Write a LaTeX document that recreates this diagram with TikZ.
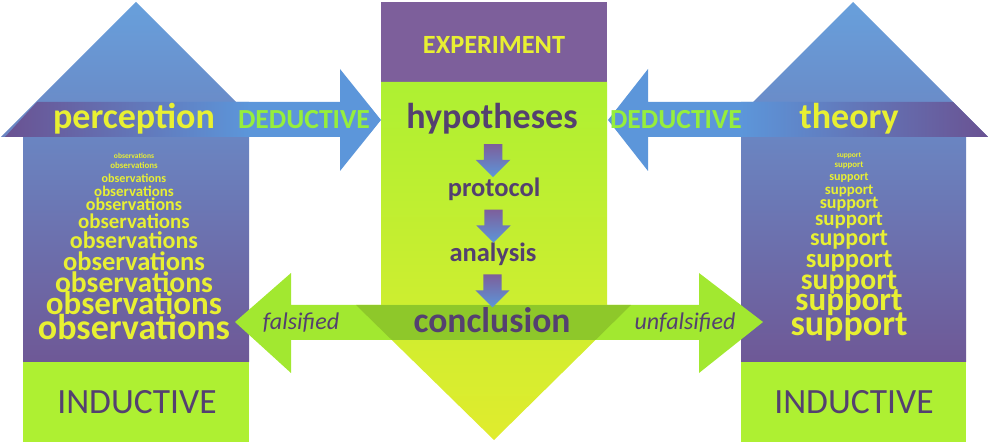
\documentclass[tikz,border=0pt]{standalone}
\usepackage{fontspec}
\setmainfont{Carlito}
\usetikzlibrary{shapes.arrows, positioning, calc}

\definecolor{skyblue}{RGB}{104,160,220}
\definecolor{dusk}{RGB}{110,88,150}
\definecolor{bandpurple}{RGB}{106,82,146}
\definecolor{arrowblue}{RGB}{92,150,218}
\definecolor{limegreen}{RGB}{174,240,50}
\definecolor{lemon}{RGB}{224,236,46}
\definecolor{grape}{RGB}{125,95,155}
\definecolor{inkpurple}{RGB}{84,64,112}
\definecolor{textyellow}{RGB}{232,240,50}
\definecolor{dedgreen}{RGB}{150,238,60}
\definecolor{bandgreen}{RGB}{162,232,48}
\definecolor{olive}{RGB}{142,200,42}

\tikzset{
  roofword/.style={inner sep=0pt, text=textyellow, font=\bfseries\fontsize{36}{36}\selectfont},
  dedword/.style={inner sep=0pt, text=dedgreen, font=\bfseries\fontsize{27.6}{28}\selectfont},
  stageword/.style={inner sep=0pt, text=inkpurple, font=\bfseries\fontsize{26.5}{27}\selectfont},
  indword/.style={inner sep=0pt, text=inkpurple, font=\fontsize{35.5}{36}\selectfont},
  verdict/.style={inner sep=0pt, text=inkpurple, font=\itshape\fontsize{24}{24}\selectfont},
  pileword/.style={inner sep=0pt, text=textyellow},
  stepdown/.style={single arrow, shape border rotate=270, inner sep=9pt, minimum height=33pt,
    single arrow head extend=8pt, single arrow tip angle=90, top color=grape, bottom color=arrowblue}
}

\begin{document}
\begin{tikzpicture}[x=1pt, y=-1pt]
    \useasboundingbox (0,0) rectangle (990,443);
    % houses
    \shade[top color=skyblue, bottom color=dusk] (23,362) -- (23,137) -- (1,137) -- (136,2) -- (271,137) -- (249,137) -- (249,362) -- cycle;
    \fill[limegreen] (23,362) rectangle (249,442);
    \shade[top color=skyblue, bottom color=dusk] (741,362) -- (741,137) -- (718,137) -- (853,2) -- (988,137) -- (966,137) -- (966,362) -- cycle;
    \fill[limegreen] (741,362) rectangle (966,442);
    % experiment column
    \fill[grape] (381,2) rectangle (607,82);
    \shade[top color=limegreen, bottom color=lemon] (381,82) -- (607,82) -- (607,305) -- (631,305) -- (494,440) -- (356,305) -- (381,305) -- cycle;
    % deductive arrows
    \fill[arrowblue] (200,102) -- (340,102) -- (340,69) -- (381,120) -- (340,171) -- (340,137) -- (200,137) -- cycle;
    \shade[left color=bandpurple, right color=arrowblue] (5,137) -- (37,102) -- (249,102) -- (249,137) -- cycle;
    \fill[arrowblue] (790,102) -- (648,102) -- (648,69) -- (608,120) -- (648,171) -- (648,137) -- (790,137) -- cycle;
    \shade[left color=arrowblue, right color=bandpurple] (741,137) -- (741,102) -- (953,102) -- (988,137) -- cycle;
    % conclusion band
    \fill[bandgreen] (235,322) -- (291,273) -- (291,305) -- (699,305) -- (699,273) -- (763,322) -- (699,373) -- (699,340) -- (291,340) -- (291,373) -- cycle;
    \begin{scope}
        \clip (356,305) -- (631,305) -- (494,440) -- cycle;
        \fill[olive] (291,305) rectangle (699,340);
    \end{scope}

    \node[roofword] (perc) at (134,119) {perception};
    \node[roofword] (theo) at (849,119) {theory};
    \node[dedword] (dedL) at (304,120) {DEDUCTIVE};
    \node[dedword] (dedR) at (676,120) {DEDUCTIVE};
    \node[inner sep=0pt, text=textyellow, font=\bfseries\fontsize{26.3}{27}\selectfont] (expt) at (494,45) {EXPERIMENT};
    \node[stageword, font=\bfseries\fontsize{36}{36}\selectfont] (hyp) at (492,119) {hypotheses};
    \node[stageword] (prot) at (494,189) {protocol};
    \node[stageword] (anal) at (493,254) {analysis};
    \node[stageword, font=\bfseries\fontsize{35.6}{36}\selectfont] (concl) at (492,320) {conclusion};
    \path (hyp) -- node[stepdown]{} (prot);
    \path (prot) -- node[stepdown]{} (anal);
    \path (anal) -- node[stepdown]{} (concl);
    \node[verdict] (fals) at (301,323) {falsified};
    \node[verdict] (unfals) at (685,323) {unfalsified};
    \node[indword] (indL) at (137,402) {INDUCTIVE};
    \node[indword] (indR) at (854,402) {INDUCTIVE};

    \foreach \sz/\yy [count=\i] in {7.5/156, 8.9/165, 12.1/178, 14.9/191, 18/204, 20.9/221, 24/240, 26.6/261, 29.6/282, 33/303, 36/327} {
        \node[pileword, font=\bfseries\fontsize{\sz}{\sz}\selectfont] (obs\i) at (134,\yy) {observations};
        \node[pileword, font=\bfseries\fontsize{\sz}{\sz}\selectfont] (supp\i) at (849,\yy) {support};
    }
\end{tikzpicture}
\end{document}
